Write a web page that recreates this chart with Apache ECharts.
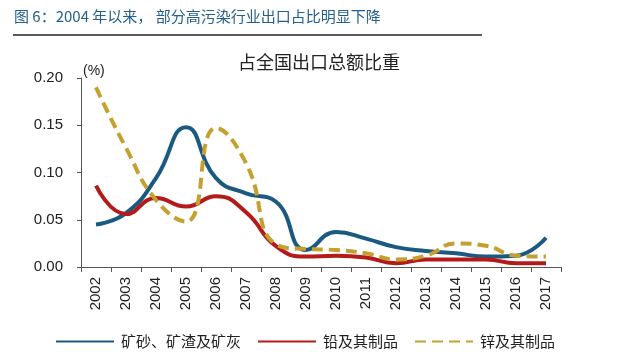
<!DOCTYPE html>
<html>
<head>
<meta charset="utf-8">
<script src="https://cdn.jsdelivr.net/npm/echarts@6/dist/echarts.min.js"></script>
<style>
html,body{margin:0;padding:0;background:#fff;}
#c{width:638px;height:357px;}
</style>
</head>
<body>
<div id="c"></div>
<script>
var years = ['2002','2003','2004','2005','2006','2007','2008','2009','2010','2011','2012','2013','2014','2015','2016','2017'];
var oreSlag = [0.045,0.057,0.094,0.148,0.094,0.078,0.069,0.018,0.037,0.030,0.021,0.017,0.0145,0.011,0.012,0.031];
var lead    = [0.086,0.056,0.073,0.064,0.075,0.058,0.022,0.011,0.012,0.010,0.004,0.008,0.008,0.008,0.004,0.004];
var zinc    = [0.190,0.126,0.071,0.048,0.147,0.110,0.024,0.019,0.018,0.0145,0.008,0.012,0.025,0.0225,0.012,0.011];
var seriesNames = ['矿砂、矿渣及矿灰','铅及其制品','锌及其制品'];
var yTicks = [0, 0.05, 0.10, 0.15, 0.20];

var FONT = '"Liberation Sans", Arial, "Noto Sans CJK SC", sans-serif';
var CJK = '"Noto Sans CJK SC", "Liberation Sans", sans-serif';
var chart = echarts.init(document.getElementById('c'));
chart.setOption({
  animation: false,
  backgroundColor: '#fff',
  title: {
    text: '占全国出口总额比重',
    left: 'center',
    top: 48,
    textStyle: {fontFamily: CJK, fontSize: 18, fontWeight: 'normal', color: '#222'}
  },
  graphic: [
    {type: 'text', left: 14, top: 9, style: {text: '图 6：2004 年以来， 部分高污染行业出口占比明显下降', font: '15px ' + CJK, fill: '#24608f'}},
    {type: 'line', shape: {x1: 13, y1: 35, x2: 482, y2: 35}, style: {stroke: '#222', lineWidth: 1.5}},
    {type: 'text', left: 83, top: 64, style: {text: '(%)', font: '14px ' + FONT, fill: '#222'}}
  ],
  grid: {left: 81, right: 77, top: 78, bottom: 90},
  legend: {
    left: 50,
    top: 329,
    itemWidth: 58,
    itemHeight: 14,
    itemGap: 16,
    itemStyle: {opacity: 0},
    textStyle: {fontFamily: CJK, fontSize: 15, color: '#222', padding: [0, 0, 0, 2]},
    data: seriesNames
  },
  xAxis: {
    type: 'category',
    data: years,
    boundaryGap: true,
    axisLine: {lineStyle: {color: '#555', width: 1}},
    axisTick: {show: true, length: 5, lineStyle: {color: '#555'}},
    axisLabel: {rotate: 90, fontFamily: FONT, fontSize: 15, color: '#222', margin: 10, interval: 0}
  },
  yAxis: {
    type: 'value',
    min: 0, max: 0.2, interval: 0.05,
    splitLine: {show: false},
    axisLine: {show: true, lineStyle: {color: '#555', width: 1}},
    axisTick: {show: true, length: 4, lineStyle: {color: '#555'}},
    axisLabel: {fontFamily: FONT, fontSize: 15, color: '#222', margin: 18,
      formatter: function (v) { return v.toFixed(2); }}
  },
  series: [
    {name: seriesNames[0], type: 'line', data: oreSlag, smooth: 0.5, showSymbol: false, symbol: 'none',
      lineStyle: {color: '#1b5a80', width: 4}, itemStyle: {color: '#1b5a80'}},
    {name: seriesNames[1], type: 'line', data: lead, smooth: 0.5, showSymbol: false, symbol: 'none',
      lineStyle: {color: '#b41a1a', width: 4}, itemStyle: {color: '#b41a1a'}},
    {name: seriesNames[2], type: 'line', data: zinc, smooth: 0.5, showSymbol: false, symbol: 'none',
      lineStyle: {color: '#c4a030', width: 4, type: [11, 6]}, itemStyle: {color: '#c4a030'}}
  ]
});
</script>
</body>
</html>
